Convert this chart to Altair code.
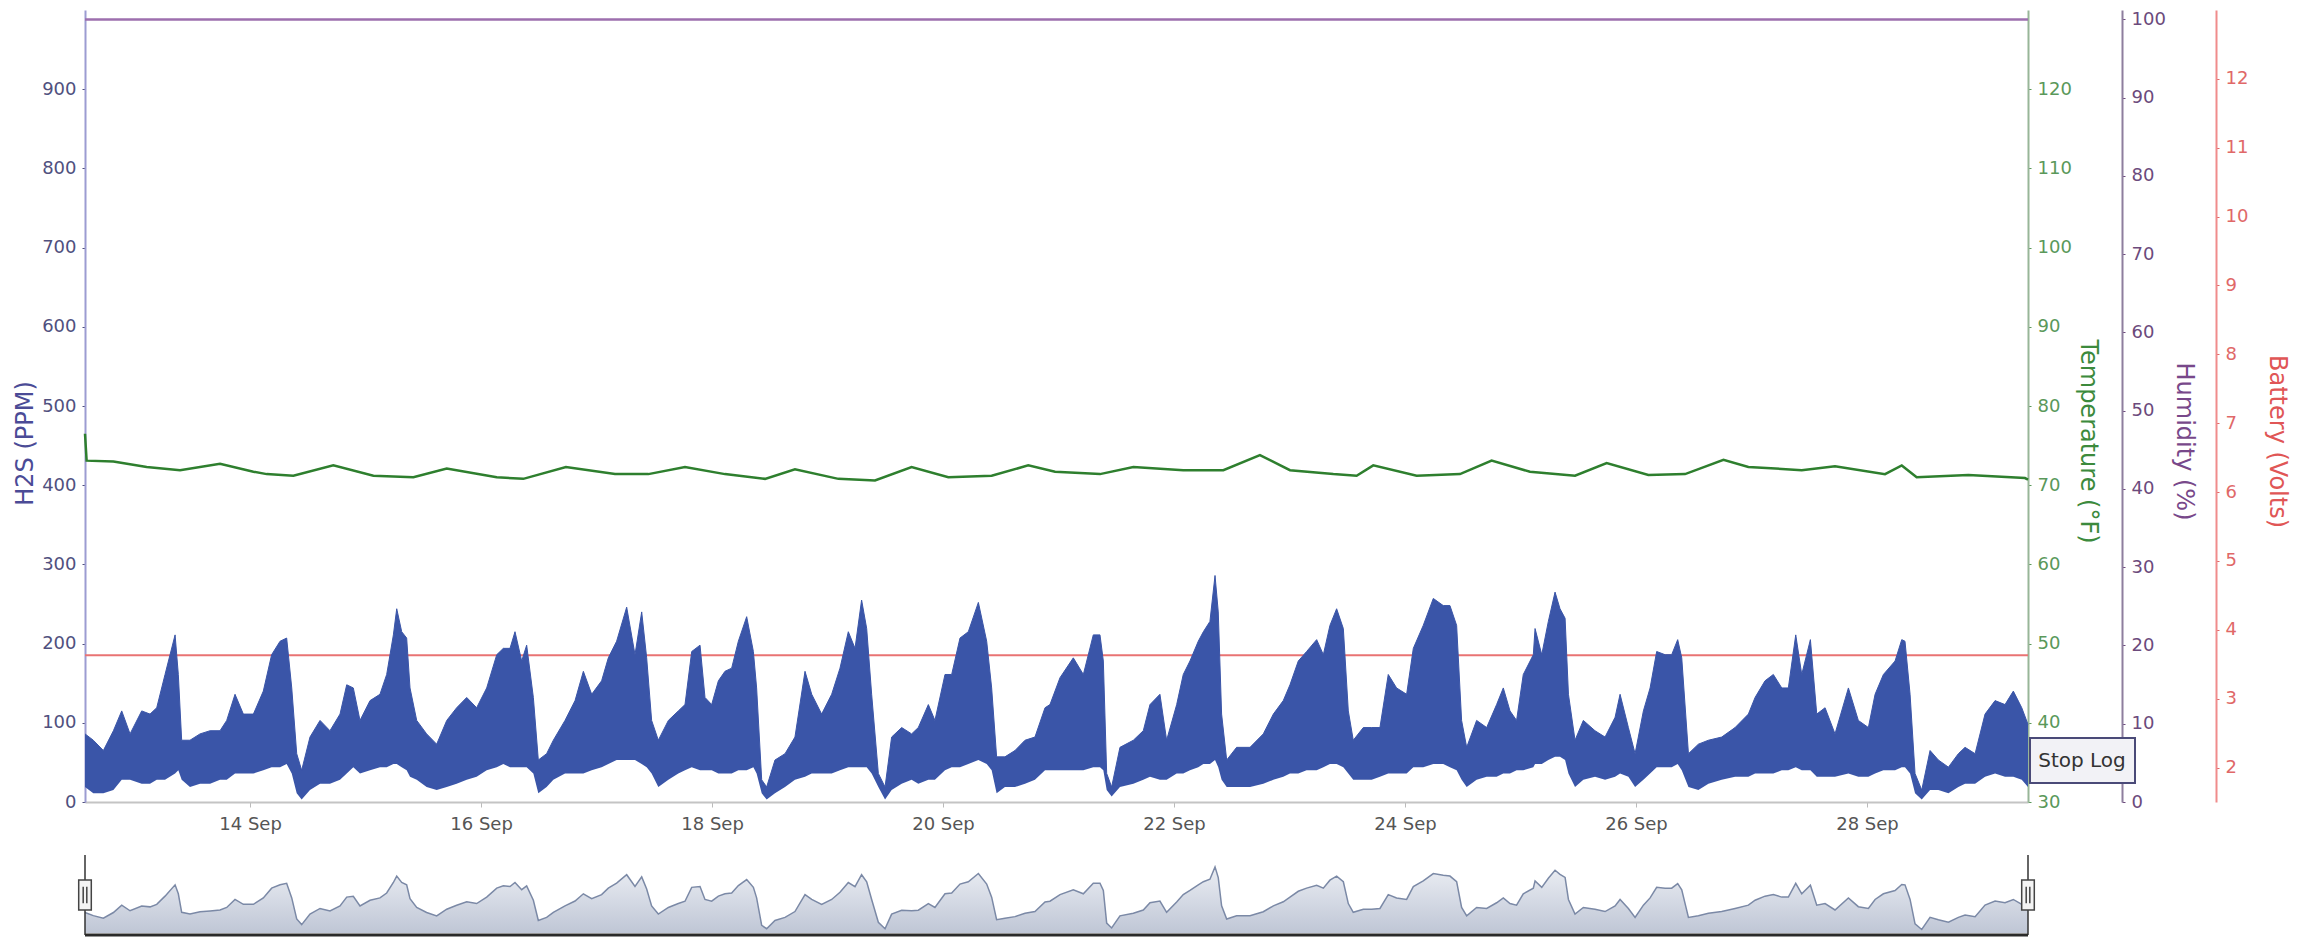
import altair as alt
import pandas as pd

YEAR = 2014

# ---------------- data (day-of-September, values) -------------
h2s_day = [
    12.571, 12.643, 12.730, 12.817, 12.889, 12.961, 13.062, 13.134, 13.192, 13.264,
    13.351, 13.379, 13.408, 13.480, 13.567, 13.654, 13.740, 13.798, 13.870, 13.942,
    14.029, 14.115, 14.187, 14.260, 14.317, 14.361, 14.404, 14.447, 14.519, 14.606,
    14.692, 14.779, 14.837, 14.894, 14.952, 15.039, 15.125, 15.183, 15.241, 15.270,
    15.313, 15.356, 15.385, 15.443, 15.529, 15.616, 15.703, 15.789, 15.876, 15.962,
    16.049, 16.136, 16.193, 16.251, 16.294, 16.352, 16.395, 16.453, 16.496, 16.568,
    16.626,
    16.727, 16.814, 16.886, 16.958, 17.044, 17.102, 17.174, 17.261, 17.333, 17.391,
    17.434, 17.477, 17.535, 17.622, 17.708, 17.766, 17.824, 17.896, 17.939, 17.997,
    18.055, 18.112, 18.170, 18.228, 18.300, 18.358, 18.386, 18.430, 18.473, 18.545,
    18.632, 18.718, 18.805, 18.863, 18.949, 19.036, 19.108, 19.180, 19.238, 19.295,
    19.339, 19.382, 19.440, 19.498, 19.555, 19.642, 19.728, 19.786, 19.873, 19.930,
    20.017, 20.075, 20.147, 20.219, 20.306, 20.378, 20.421, 20.464, 20.536, 20.623,
    20.710, 20.796, 20.883,
    20.926, 21.013, 21.128, 21.215, 21.301, 21.359, 21.388, 21.417, 21.460, 21.532,
    21.648, 21.734, 21.792, 21.878, 21.936, 22.023, 22.080, 22.138, 22.210, 22.254,
    22.311, 22.355, 22.383, 22.412, 22.456, 22.542, 22.658, 22.773, 22.860, 22.946,
    23.004, 23.076, 23.148, 23.235, 23.293, 23.350, 23.408, 23.466, 23.509, 23.552,
    23.639, 23.711, 23.783, 23.855, 23.927, 24.014, 24.072, 24.158, 24.245, 24.331,
    24.389, 24.447, 24.490, 24.534, 24.620, 24.707, 24.793, 24.851, 24.909, 24.966,
    25.024, 25.111,
    25.126, 25.184, 25.241, 25.299, 25.342, 25.386, 25.415, 25.472, 25.544, 25.645,
    25.732, 25.819, 25.862, 25.934, 25.992, 26.064, 26.122, 26.179, 26.252, 26.309,
    26.361, 26.396, 26.454, 26.540, 26.627, 26.742, 26.858, 26.973, 27.031, 27.117,
    27.189, 27.262, 27.319, 27.383, 27.435, 27.510, 27.565, 27.637, 27.723, 27.839,
    27.925, 28.012, 28.070, 28.142, 28.243, 28.301, 28.329, 28.373, 28.416, 28.474,
    28.546, 28.618, 28.705, 28.791, 28.849, 28.936, 29.022, 29.109, 29.195, 29.267,
    29.340, 29.394,
]
h2s_hi = [
    86, 78, 65, 90, 115, 86, 115, 111, 119, 161,
    211, 161, 78, 78, 86, 90, 90, 103, 136, 111,
    111, 140, 186, 203, 207, 144, 61, 40, 82, 103,
    90, 111, 148, 144, 103, 128, 136, 161, 211, 244,
    215, 207, 144, 103, 86, 73, 103, 119, 132, 119,
    144, 186, 194, 194, 215, 178, 198, 132, 53, 61,
    78,
    103, 128, 165, 136, 153, 182, 203, 246, 186, 240,
    182, 103, 78, 103, 115, 123, 190, 198, 132, 123,
    153, 165, 169, 203, 234, 190, 144, 28, 19, 53,
    61, 82, 165, 136, 111, 136, 169, 215, 194, 255,
    219, 136, 36, 19, 82, 94, 86, 94, 123, 103,
    161, 161, 207, 215, 252, 203, 144, 57, 57, 65,
    78, 82, 119,
    123, 157, 182, 161, 211, 211, 178, 36, 19, 69,
    78, 90, 123, 136, 78, 123, 161, 178, 203, 215,
    228, 286, 240, 111, 53, 69, 69, 86, 111, 128,
    148, 178, 190, 205, 186, 223, 244, 219, 115, 78,
    94, 94, 94, 161, 144, 136, 194, 223, 257, 248,
    248, 223, 103, 69, 103, 94, 123, 144, 115, 103,
    161, 186,
    219, 186, 228, 265, 244, 232, 136, 78, 103, 90,
    82, 107, 136, 94, 61, 115, 144, 190, 186, 186,
    205, 182, 61, 73, 78, 82, 94, 111, 132, 153,
    161, 144, 144, 211, 161, 205, 111, 119, 86, 144,
    103, 94, 136, 161, 178, 205, 203, 136, 36, 15,
    65, 53, 44, 61, 69, 61, 111, 128, 123, 140,
    119, 98,
]
h2s_lo = [
    19, 11, 11, 15, 28, 28, 23, 23, 28, 28,
    36, 40, 28, 19, 23, 23, 28, 28, 36, 36,
    36, 40, 44, 44, 48, 36, 11, 3, 15, 23,
    23, 28, 36, 44, 36, 40, 44, 44, 48, 48,
    44, 40, 32, 28, 19, 15, 19, 23, 28, 32,
    40, 44, 48, 44, 44, 44, 44, 36, 11, 19,
    28,
    36, 36, 36, 40, 44, 48, 53, 53, 53, 48,
    44, 36, 19, 28, 36, 40, 44, 40, 40, 40,
    36, 36, 36, 40, 40, 44, 36, 11, 3, 11,
    19, 28, 32, 36, 36, 36, 40, 44, 44, 44,
    44, 36, 19, 3, 15, 23, 28, 23, 28, 28,
    40, 44, 44, 48, 53, 48, 40, 11, 19, 19,
    23, 28, 40,
    40, 40, 40, 40, 44, 44, 40, 15, 7, 19,
    23, 28, 32, 28, 28, 36, 36, 40, 44, 48,
    48, 53, 44, 28, 19, 19, 19, 23, 28, 32,
    36, 36, 40, 40, 44, 48, 48, 44, 36, 28,
    28, 28, 32, 36, 36, 36, 44, 44, 48, 48,
    44, 40, 28, 19, 28, 32, 32, 36, 36, 40,
    40, 44,
    48, 48, 53, 57, 57, 53, 36, 19, 28, 32,
    28, 32, 36, 32, 19, 28, 36, 44, 44, 44,
    48, 40, 19, 15, 23, 28, 32, 32, 36, 36,
    36, 40, 40, 44, 40, 40, 32, 32, 32, 36,
    32, 32, 36, 40, 40, 44, 44, 36, 11, 3,
    15, 15, 11, 19, 23, 23, 32, 36, 32, 32,
    28, 19,
]

temp_day = [
    12.571, 12.585, 12.817, 13.105, 13.394, 13.740, 14.029, 14.144, 14.375, 14.721,
    15.068, 15.414, 15.703, 16.136, 16.366, 16.735, 17.160, 17.449, 17.766, 18.112,
    18.459, 18.718, 19.094, 19.411, 19.728, 20.046, 20.421, 20.738, 20.970, 21.359,
    21.648, 22.080, 22.427, 22.744, 23.004, 23.379, 23.581, 23.725, 24.101, 24.476,
    24.750, 25.082, 25.472, 25.746, 26.107, 26.425, 26.757, 26.973, 27.435, 27.723,
    28.156, 28.301, 28.430, 28.878, 29.368, 29.394,
]
temp_val = [
    76.5, 73.1, 73.0, 72.3, 71.9, 72.7, 71.7, 71.4, 71.2, 72.5,
    71.2, 71.0, 72.1, 71.0, 70.8, 72.3, 71.4, 71.4, 72.3, 71.4,
    70.8, 72.0, 70.8, 70.6, 72.3, 71.0, 71.2, 72.5, 71.7, 71.4,
    72.3, 71.9, 71.9, 73.8, 71.9, 71.4, 71.2, 72.5, 71.2, 71.4,
    73.1, 71.7, 71.2, 72.8, 71.3, 71.4, 73.2, 72.3, 71.9, 72.4,
    71.4, 72.5, 71.0, 71.3, 70.9, 70.7,
]

span_day = [12.571, 29.394]
humidity_val = [100, 100]
battery_val = [3.63, 3.63]
tick_days = [14, 16, 18, 20, 22, 24, 26, 28]

# ---------------- helpers -------------------------------------------------------------
BASE = pd.Timestamp(f"{YEAR}-09-01")


def to_ts(d):
    return BASE + pd.Timedelta(days=d - 1)


def to_str(d):
    return to_ts(d).strftime("%Y-%m-%dT%H:%M:%S")


def to_dt(d):
    t = to_ts(d)
    return alt.DateTime(year=t.year, month=t.month, date=t.day,
                        hours=t.hour, minutes=t.minute, seconds=t.second)


h2s_df = pd.DataFrame({"t": [to_str(d) for d in h2s_day], "hi": h2s_hi, "lo": h2s_lo})
temp_df = pd.DataFrame({"t": [to_str(d) for d in temp_day], "v": temp_val})
hum_df = pd.DataFrame({"t": [to_str(d) for d in span_day], "v": humidity_val})
bat_df = pd.DataFrame({"t": [to_str(d) for d in span_day], "v": battery_val})
edge_df = pd.DataFrame({"t": [to_str(d) for d in span_day]})
bottom_df = pd.DataFrame({"t": [to_str(span_day[0])], "t2": [to_str(span_day[1])]})
one_df = pd.DataFrame({"k": [0]})

FONT = "DejaVu Sans"
W, H = 1943, 792

x_scale = alt.Scale(domain=[to_dt(span_day[0]), to_dt(span_day[1])])
x_axis = alt.Axis(
    values=[alt.DateTime(year=YEAR, month=9, date=d) for d in tick_days],
    format="%-d %b", title=None, labelFontSize=18, labelColor="#555555",
    tickColor="#bbbbbb", domainColor="#c4c4c4", domainWidth=2, tickSize=5,
    labelPadding=8, grid=False,
)
X = alt.X("t:T", scale=x_scale, axis=x_axis)

common_axis = dict(grid=False, titleFontSize=24, titleFontWeight="normal",
                   labelFontSize=18, tickSize=3, labelPadding=6,
                   titleAlign="center", titleBaseline="middle", domainWidth=2)

h2s_axis = alt.Axis(orient="left", values=list(range(0, 1000, 100)), title="H2S (PPM)",
                    titleColor="#4b4b96", labelColor="#50507e", domainColor="#9c9cd2",
                    tickColor="#50507e", titleX=-60, titleY=433, titleAngle=270,
                    **common_axis)
temp_axis = alt.Axis(orient="right", offset=0, values=list(range(30, 130, 10)),
                     title="Temperature (°F)", titleColor="#3c8a3c", labelColor="#5a985a",
                     domainColor="#98b698", tickColor="#5a985a", titleX=59, titleY=431,
                     titleAngle=90, **common_axis)
hum_axis = alt.Axis(orient="right", offset=94, values=list(range(0, 101, 10)),
                    title="Humidity (%)", titleColor="#78488a", labelColor="#6c4a7c",
                    domainColor="#8e7e9e", tickColor="#6c4a7c", titleX=61, titleY=431,
                    titleAngle=90, **common_axis)
bat_axis = alt.Axis(orient="right", offset=188, values=list(range(2, 13)),
                    title="Battery (Volts)", titleColor="#e05656", labelColor="#e06868",
                    domainColor="#f08c8c", tickColor="#e06868", titleX=60, titleY=431,
                    titleAngle=90, **common_axis)

battery = alt.Chart(bat_df).mark_line(color="#e97373", strokeWidth=2).encode(
    x=X, y=alt.Y("v:Q", scale=alt.Scale(domain=[1.5, 13], nice=False, zero=False), axis=bat_axis))

humidity = alt.Chart(hum_df).mark_line(color="#9d6fae", strokeWidth=2.5).encode(
    x=X, y=alt.Y("v:Q", scale=alt.Scale(domain=[0, 101.2], nice=False), axis=hum_axis))

h2s = alt.Chart(h2s_df).mark_area(color="#3a55a8", opacity=1, line={"color": "#3a55a8", "strokeWidth": 1}).encode(
    x=X, y=alt.Y("hi:Q", scale=alt.Scale(domain=[0, 1000], nice=False), axis=h2s_axis),
    y2="lo:Q")

temperature = alt.Chart(temp_df).mark_line(color="#2e7f2e", strokeWidth=2.5).encode(
    x=X, y=alt.Y("v:Q", scale=alt.Scale(domain=[30, 130], nice=False, zero=False), axis=temp_axis))

nav_fill = alt.Gradient(gradient="linear", x1=0, x2=0, y1=0, y2=1,
                        stops=[alt.GradientStop(color="#e2e6ee", offset=0),
                               alt.GradientStop(color="#a4aec4", offset=1)])
navigator = alt.Chart(h2s_df).transform_calculate(mid="(datum.hi + datum.lo) / 2").mark_area(
    color=nav_fill, line={"color": "#7b89a6", "strokeWidth": 1.5}).encode(
    x=X, y=alt.Y("mid:Q", scale=alt.Scale(domain=[0, 200], range=[923, 845], nice=False), axis=None))

nav_edges = alt.Chart(edge_df).mark_rule(color="#333333", strokeWidth=1.5).encode(
    x=X, y=alt.value(845), y2=alt.value(925))
nav_bottom = alt.Chart(bottom_df).mark_rule(color="#2a2a2a", strokeWidth=3).encode(
    x=X, x2="t2:T", y=alt.value(925))
handle_path = ("M-0.42,-1 L0.42,-1 L0.42,1 L-0.42,1 Z "
               "M-0.12,-0.55 L-0.12,0.55 M0.12,-0.55 L0.12,0.55")
nav_handles = alt.Chart(edge_df).mark_point(
    shape=handle_path, size=900, filled=True, fill="#f4f4f4", stroke="#444444",
    strokeWidth=1.5, opacity=1).encode(x=X, y=alt.value(885))

button = alt.Chart(one_df).mark_rect(fill="#f2f2f6", stroke="#4a4a78", strokeWidth=2).encode(
    x=alt.value(1945), x2=alt.value(2050), y=alt.value(728), y2=alt.value(773))
button_text = alt.Chart(one_df).mark_text(font=FONT, fontSize=20, color="#333333",
                                          align="center", baseline="middle").encode(
    x=alt.value(1997), y=alt.value(751), text=alt.value("Stop Log"))

chart = alt.layer(
    battery, humidity, h2s, temperature, navigator, nav_edges, nav_bottom, nav_handles,
    button, button_text,
).resolve_scale(y="independent").properties(
    width=W, height=H,
    padding={"left": 77, "top": 2, "right": 270, "bottom": 135},
    autosize=alt.AutoSizeParams(type="none"),
).configure_view(strokeWidth=0).configure_axis(
    labelFont=FONT, titleFont=FONT, grid=False,
)

chart.save("out.html", embed_options={"renderer": "svg", "actions": False})
